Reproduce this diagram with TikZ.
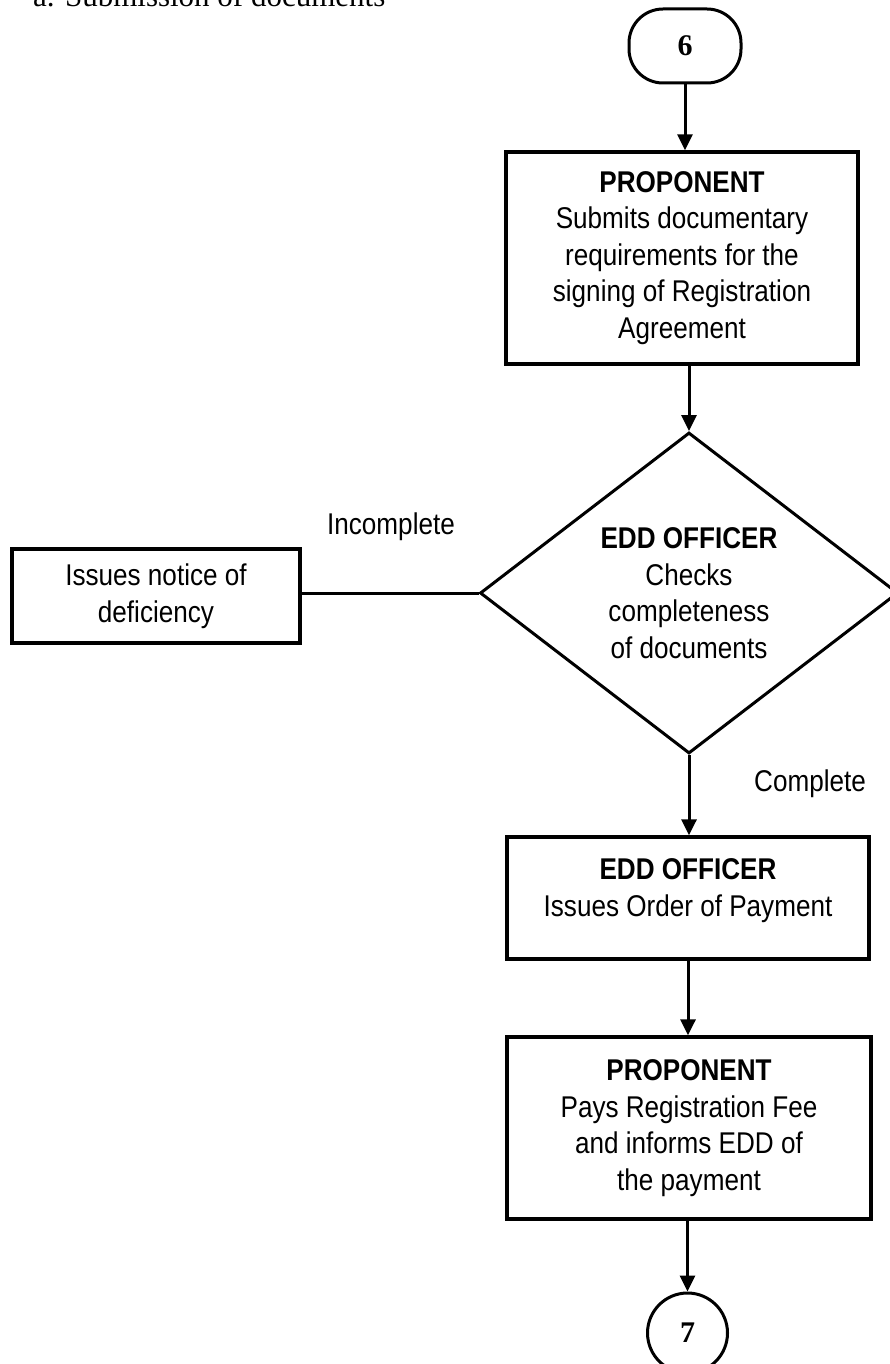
\documentclass[tikz,border=0pt]{standalone}
\usepackage{fontspec}
\setmainfont{Liberation Sans}[FakeStretch=0.87]
\newfontfamily\serifhead{Liberation Serif}
\usetikzlibrary{arrows.meta,shapes.geometric}
\tikzset{
  txt/.style={font=\fontsize{30}{36.5}\selectfont},
  flow/.style={line width=3pt, -{Triangle[length=16pt,width=15pt]}},
  link/.style={line width=3pt},
  stepbox/.style={draw, rectangle, line width=3.3pt, align=center, inner sep=0pt, txt},
  decision/.style={draw, diamond, line width=3pt, align=center, inner sep=0pt, txt},
  lbl/.style={anchor=base, inner sep=0pt, txt},
  pagelink/.style={draw, line width=3pt, inner sep=0pt,
    font=\serifhead\bfseries\fontsize{30}{30}\selectfont},
}
\begin{document}
\begin{tikzpicture}[x=1pt,y=-1pt]
\useasboundingbox (0,0) rectangle (889,1364);

% heading, partly cut by the page edge
\node[anchor=base west, inner sep=0pt, font=\serifhead\fontsize{31}{31}\selectfont]
  (title) at (33,7) {a. Submission of documents};

% off-page connectors
\node[pagelink, rectangle, rounded corners=34pt, minimum width=112pt, minimum height=74pt]
  (t6) at (685,46) {6};
\node[pagelink, circle, minimum size=80pt] (c7) at (687.5,1333) {7};

% process steps
\node[stepbox, minimum width=352pt, minimum height=212pt] (b1) at (682,258)
  {\textbf{PROPONENT}\\Submits documentary\\requirements for the\\signing of Registration\\Agreement};
\node[decision, minimum width=418pt, minimum height=321pt] (d) at (689,593)
  {\textbf{EDD OFFICER}\\Checks\\completeness\\of documents};
\node[stepbox, minimum width=288pt, minimum height=94pt] (nd) at (156,596)
  {Issues notice of\\deficiency};
\node[stepbox, minimum width=362pt, minimum height=122pt] (b2) at (688,898)
  {\textbf{EDD OFFICER}\\Issues Order of Payment\\[-16pt]\mbox{}};
\node[stepbox, minimum width=364pt, minimum height=182pt] (b3) at (689,1128)
  {\textbf{PROPONENT}\\Pays Registration Fee\\and informs EDD of\\the payment};

% branch labels
\node[lbl] (inc) at (391,534) {Incomplete};
\node[lbl] (cmp) at (810,791) {Complete};

% connectors
\draw[flow] (t6.south) -- (t6.south |- b1.north);
\draw[flow] (d.north |- b1.south) -- (d.north);
\draw[link] (nd.east |- d.west) -- (d.west);
\draw[flow] (d.south) -- (d.south |- b2.north);
\draw[flow] (b2.south) -- (b2.south |- b3.north);
\draw[flow] (b3.south -| c7.north) -- (c7.north);
\end{tikzpicture}
\end{document}
